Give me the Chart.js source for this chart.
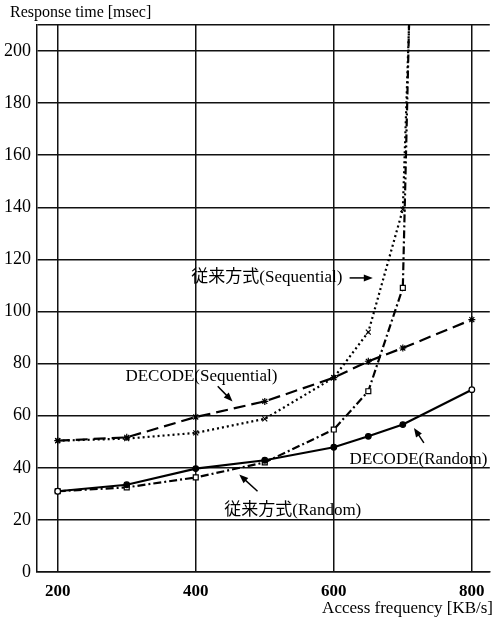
<!DOCTYPE html>
<html>
<head>
<meta charset="utf-8">
<script src="https://cdn.jsdelivr.net/npm/chart.js@4"></script>
<style>
  html, body { margin: 0; padding: 0; background: #fff; }
  canvas { display: block; }
</style>
</head>
<body>
<canvas id="chart" width="495" height="620"></canvas>
<script>
// === Datos ===
const xDecode = [200, 300, 400, 500, 600, 650, 700, 800];
const decodeRandom = [31.0, 33.5, 39.7, 42.9, 47.9, 52.1, 56.6, 70.0];
const decodeSeq = [50.4, 51.7, 59.5, 65.5, 74.6, 80.9, 86.0, 96.9];

const xConv = [200, 300, 400, 500, 600, 650, 700, 709];
const convRandom = [31.0, 32.5, 36.3, 42.1, 54.7, 69.4, 109.1, 210];
const convSeq = [50.4, 51.2, 53.4, 58.8, 74.6, 92.1, 139.2, 210];

const xTicks = [200, 400, 600, 800];
const yTitle = 'Response time [msec]';
const xTitle = 'Access frequency [KB/s]';

// etiquetas con flecha (coordenadas de datos)
const annoText = ['従来方式(Sequential)', 'DECODE(Sequential)', '従来方式(Random)', 'DECODE(Random)'];
const annoAt = [[393.5, 113.2], [298.1, 75.1], [441.4, 23.7], [622.9, 43.1]];
const arrowFrom = [[622.9, 112.9], [431.8, 71.3], [489.5, 31.0], [730.5, 49.6]];
const arrowTo = [[656.5, 112.9], [453.3, 65.5], [463.0, 37.4], [716.1, 55.3]];

const FONT = '"Liberation Serif", "Noto Sans CJK JP", serif';
const pts = (xs, ys) => xs.map((x, i) => ({ x: x, y: ys[i] }));

// === Plugin de textos ===
const textos = {
    id: 'textos',
    afterDraw(chart) {
        const ctx = chart.ctx;
        const sx = chart.scales.x, sy = chart.scales.y;
        ctx.save();
        ctx.fillStyle = '#000';
        ctx.strokeStyle = '#000';
        ctx.textBaseline = 'middle';

        ctx.font = '16px ' + FONT;
        ctx.textAlign = 'left';
        ctx.fillText(yTitle, 10, 13);
        ctx.font = '17px ' + FONT;
        ctx.textAlign = 'right';
        ctx.fillText(xTitle, 493, 609);

        ctx.textAlign = 'left';
        annoText.forEach((t, i) => {
            ctx.fillText(t, sx.getPixelForValue(annoAt[i][0]), sy.getPixelForValue(annoAt[i][1]));

            const x1 = sx.getPixelForValue(arrowFrom[i][0]), y1 = sy.getPixelForValue(arrowFrom[i][1]);
            const x2 = sx.getPixelForValue(arrowTo[i][0]), y2 = sy.getPixelForValue(arrowTo[i][1]);
            const a = Math.atan2(y2 - y1, x2 - x1);
            ctx.lineWidth = 1.5;
            ctx.beginPath();
            ctx.moveTo(x1, y1);
            ctx.lineTo(x2 - 6 * Math.cos(a), y2 - 6 * Math.sin(a));
            ctx.stroke();
            ctx.beginPath();
            ctx.moveTo(x2, y2);
            ctx.lineTo(x2 - 9 * Math.cos(a) + 3.5 * Math.sin(a), y2 - 9 * Math.sin(a) - 3.5 * Math.cos(a));
            ctx.lineTo(x2 - 9 * Math.cos(a) - 3.5 * Math.sin(a), y2 - 9 * Math.sin(a) + 3.5 * Math.cos(a));
            ctx.closePath();
            ctx.fill();
        });
        ctx.restore();
    }
};

const endsOpen = c => (c.dataIndex === 0 || c.dataIndex === xDecode.length - 1) ? '#fff' : '#000';
const lastHidden = r => c => c.dataIndex === xConv.length - 1 ? 0 : r;

// === Gráfica ===
const chart = new Chart(document.getElementById('chart'), {
    type: 'line',
    data: {
        datasets: [
            {
                label: 'DECODE(Random)', data: pts(xDecode, decodeRandom),
                borderColor: '#000', borderWidth: 2.2, pointStyle: 'circle', pointRadius: 2.8,
                pointBackgroundColor: endsOpen, pointBorderColor: '#000', pointBorderWidth: 1.2
            },
            {
                label: '従来方式(Random)', data: pts(xConv, convRandom),
                borderColor: '#000', borderWidth: 2.2, borderDash: [8, 3, 2, 3], pointStyle: 'rect',
                pointRadius: lastHidden(3.5), pointBackgroundColor: '#fff', pointBorderColor: '#000', pointBorderWidth: 1.2
            },
            {
                label: 'DECODE(Sequential)', data: pts(xDecode, decodeSeq),
                borderColor: '#000', borderWidth: 2.2, borderDash: [12, 6], pointStyle: 'star',
                pointRadius: 3.5, pointBorderColor: '#000', pointBorderWidth: 1.2
            },
            {
                label: '従来方式(Sequential)', data: pts(xConv, convSeq),
                borderColor: '#000', borderWidth: 2.2, borderDash: [2, 3], pointStyle: 'crossRot',
                pointRadius: lastHidden(3.5), pointBorderColor: '#000', pointBorderWidth: 1.2
            }
        ]
    },
    options: {
        responsive: false,
        animation: false,
        layout: { padding: { top: 25, right: 0, left: 0, bottom: 0 } },
        plugins: { legend: { display: false }, tooltip: { enabled: false } },
        scales: {
            x: {
                type: 'linear', min: 170, max: 826,
                afterBuildTicks: axis => { axis.ticks = xTicks.map(v => ({ value: v })); },
                afterFit: s => { s.height = 48; },
                grid: { color: '#111', lineWidth: 1.5, drawTicks: false },
                border: { color: '#111', width: 1.5 },
                ticks: { padding: 9, color: '#000', font: { family: FONT, size: 17, weight: 'bold' }, maxRotation: 0 }
            },
            y: {
                min: 0, max: 210,
                afterFit: s => { s.width = 37; },
                grid: { color: '#111', lineWidth: 1.5, drawTicks: false },
                border: { color: '#111', width: 1.5 },
                ticks: {
                    stepSize: 20, padding: 6, color: '#000',
                    font: { family: FONT, size: 18 },
                    callback: v => v % 20 === 0 ? v : ''
                }
            }
        }
    },
    plugins: [textos]
});
</script>
</body>
</html>
